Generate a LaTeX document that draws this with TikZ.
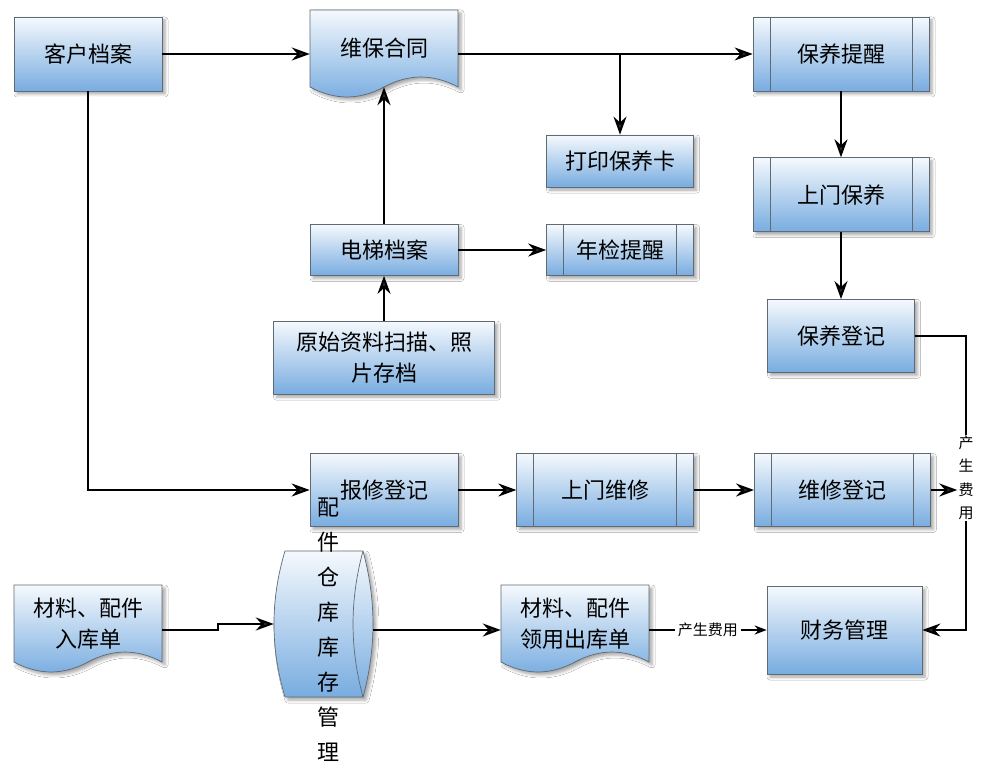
\documentclass[tikz,border=0pt]{standalone}
\usepackage{fontspec}
\newfontfamily\cjk{Noto Sans CJK SC}
\usetikzlibrary{arrows.meta,positioning,calc,shadows.blur}

\definecolor{borde}{RGB}{96,106,116}
\definecolor{claro}{RGB}{245,249,253}
\definecolor{oscuro}{RGB}{120,172,224}
\newcommand{\texto}{\cjk\fontsize{22}{31}\selectfont}
\newcommand{\textochico}{\cjk\fontsize{15}{23.5}\selectfont}

\tikzset{
  relleno/.style={draw=borde, line width=0.7pt, top color=claro, bottom color=oscuro,
    blur shadow={shadow xshift=3pt, shadow yshift=-3pt, shadow blur radius=3pt, shadow opacity=35}}
}

% hoja con borde inferior ondulado (148 x 77, centrada en la coordenada)
\newcommand{\hoja}[1]{%
  \path[relleno] ([shift={(-74,-38.5)}]#1) -- ([shift={(74,-38.5)}]#1) -- ([shift={(74,38.5)}]#1)
    .. controls +(-24.7,-13.3) and +(24.7,-13.3) .. ([shift={(0,38.5)}]#1)
    .. controls +(-24.7,13.3) and +(24.7,13.3) .. ([shift={(-74,38.5)}]#1) -- cycle;}

% almacen: lado izquierdo curvo, lado derecho en forma de lente (78 x 146)
\newcommand{\almacen}[1]{%
  \path[relleno] ([shift={(-39,-73)}]#1) -- ([shift={(39,-73)}]#1)
    .. controls +(13.3,49) and +(13.3,-49) .. ([shift={(39,73)}]#1) -- ([shift={(-39,73)}]#1)
    .. controls +(-14.7,-49) and +(-14.7,49) .. ([shift={(-39,-73)}]#1) -- cycle;
  \draw[borde, line width=0.7pt] ([shift={(39,-73)}]#1)
    .. controls +(-13.3,49) and +(-13.3,-49) .. ([shift={(39,73)}]#1);}

\begin{document}
\begin{tikzpicture}[
    x=1pt, y=-1pt,
    bloque/.style={relleno, minimum width=148pt, minimum height=74pt, font=\texto, align=center, inner sep=2pt},
    predef/.style={bloque, minimum width=176pt,
      path picture={\draw[borde, line width=0.7pt]
        ([xshift=17pt]path picture bounding box.north west) -- ([xshift=17pt]path picture bounding box.south west)
        ([xshift=-17pt]path picture bounding box.north east) -- ([xshift=-17pt]path picture bounding box.south east);}},
    documento/.style={minimum width=148pt, minimum height=77pt, font=\texto, align=center, inner sep=2pt},
    flecha/.style={-{Stealth[length=18pt, width=13pt]}, line width=2pt},
    linea/.style={line width=2pt},
    costo/.style={font=\textochico, fill=white, inner sep=3pt}
  ]

  % fondo y margenes
  \path[fill=white, use as bounding box] (0,0) rectangle (995,767);

  % Fila superior
  \node[bloque] (cliente) at (88,54) {客户档案};
  \coordinate (c contrato) at (384,48.5);
  \hoja{c contrato}
  \node[documento] (contrato) at (c contrato) {维保合同};
  \node[predef] (aviso) at (841,54) {保养提醒};
  \node[bloque, minimum width=147pt, minimum height=52pt] (tarjeta) at (620,161) {打印保养卡};

  % Columna de mantenimiento
  \node[predef, below=66pt of aviso] (visita) {上门保养};
  \node[bloque, minimum width=147pt, minimum height=73pt, below=67pt of visita] (regmant) {保养登记};

  % Archivo del ascensor
  \node[bloque, minimum height=51pt] (ascensor) at (384,250) {电梯档案};
  \node[predef, minimum width=147pt, minimum height=51pt] (anual) at (620,250) {年检提醒};
  \node[bloque, minimum width=221pt, minimum height=73pt, below=45pt of ascensor] (escaneo) {原始资料扫描、照\\片存档};

  % Fila de reparacion
  \node[bloque, minimum height=73pt] (aviso rep) at (384,490) {报修登记};
  \node[predef, minimum width=177pt, minimum height=73pt, right=58pt of aviso rep] (reparar) {上门维修};
  \node[predef, minimum height=73pt, right=60pt of reparar] (regrep) {维修登记};

  % Fila inferior
  \coordinate (c entrada) at (88,623.5);
  \hoja{c entrada}
  \node[documento] (entrada) at (c entrada) {材料、配件\\入库单};
  \coordinate (c deposito) at (324,624);
  \almacen{c deposito}
  \node[minimum width=78pt, minimum height=146pt, inner sep=0pt] (deposito) at (c deposito) {};
  \node[font=\cjk\fontsize{22}{35}\selectfont, align=center, inner sep=0pt] (depositotxt) at (328,630)
    {配\\件\\仓\\库\\库\\存\\管\\理};
  \coordinate (c salida) at (575,623.5);
  \hoja{c salida}
  \node[documento] (salida) at (c salida) {材料、配件\\领用出库单};
  \node[bloque, minimum width=155pt, minimum height=88pt] (finanzas) at (844.5,630) {财务管理};

  % etiqueta vertical de costos
  \node[font=\textochico, fill=white, align=center, inner sep=1pt] (costo v) at (966,478) {产\\生\\费\\用};

  % Flechas superiores
  \draw[flecha] (cliente.east) -- (contrato.west |- cliente.east);
  \draw[flecha] (contrato.east |- aviso.west) -- (aviso.west);
  \draw[flecha] (tarjeta.north |- aviso.west) -- (tarjeta.north);
  \draw[flecha] (aviso.south) -- (visita.north);
  \draw[flecha] (visita.south) -- (regmant.north);
  \draw[flecha] (ascensor.north) -- (contrato.south);
  \draw[flecha] (escaneo.north) -- (ascensor.south);
  \draw[flecha] (ascensor.east) -- (anual.west);

  % Flechas de reparacion
  \draw[flecha] (cliente.south) |- (aviso rep.west);
  \draw[flecha] (aviso rep.east) -- (reparar.west);
  \draw[flecha] (reparar.east) -- (regrep.west);
  \draw[flecha] (regrep.east) -- (costo v.west |- regrep.east);
  \draw[linea] (regmant.east) -| (costo v.north);
  \draw[flecha] (costo v.south) |- (finanzas.east);

  % Flechas de inventario
  \draw[flecha] (entrada.east |- finanzas.west) -- ++(56,0) |- ([xshift=-11pt]deposito.west);
  \draw[flecha] ([xshift=10pt]deposito.east |- finanzas.west) -- (salida.west |- finanzas.west);
  \draw[linea, -{Stealth[length=12pt, width=9pt]}] (salida.east |- finanzas.west) -- node[costo] {产生费用} (finanzas.west);

\end{tikzpicture}
\end{document}
